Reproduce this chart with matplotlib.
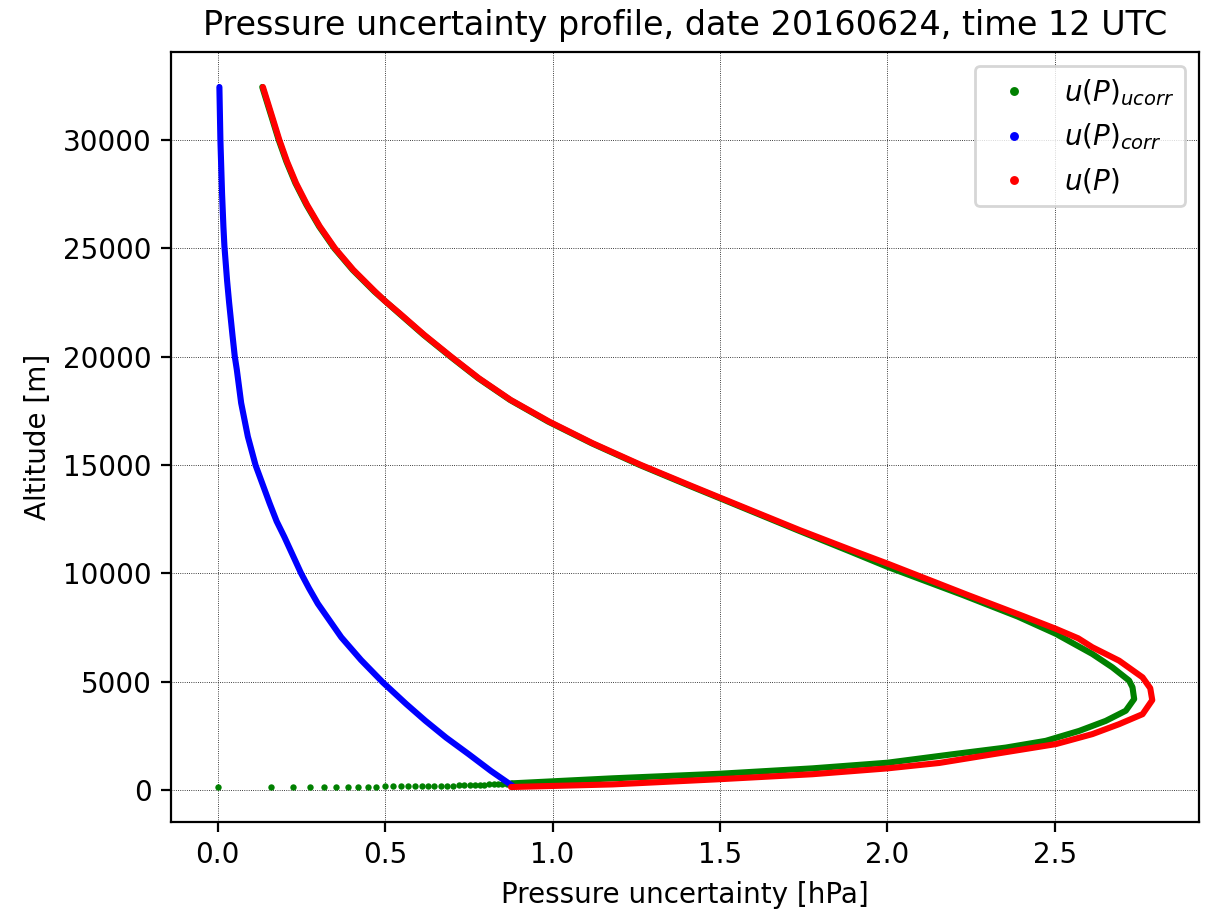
import matplotlib
matplotlib.use('Agg')
import matplotlib.pyplot as plt
from matplotlib.lines import Line2D


# Values (altitude in m, uncertainty in hPa)

# u(P)_corr
corr_alt = [185, 880, 1650, 2420, 3200, 3970, 4970, 6000, 7050, 8600, 9300, 10000,
            11680, 12400, 13230, 14990, 16310, 17860, 19400, 20000, 21000, 22500,
            23500, 25100, 26000, 27500, 28500, 30000, 32440]
corr_x = [0.881, 0.816, 0.750, 0.682, 0.620, 0.563, 0.493, 0.428, 0.369, 0.299,
          0.273, 0.249, 0.199, 0.176, 0.155, 0.113, 0.090, 0.070, 0.057, 0.051,
          0.044, 0.034, 0.028, 0.020, 0.017, 0.013, 0.011, 0.008, 0.005]

# u(P)
total_alt = [140, 260, 500, 730, 1000, 1250, 1650, 2120, 2580, 3040, 3500, 4150,
             4700, 5200, 5970, 6590, 7000, 7440, 8000, 9000, 10450, 11000, 12000,
             13380, 14000, 15000, 16000, 17000, 18000, 19000, 20000, 21000, 22000,
             22560, 23000, 24000, 25000, 26000, 27000, 28000, 29000, 30000, 31000,
             32440]
total_x = [0.876, 1.179, 1.498, 1.776, 2.000, 2.155, 2.314, 2.503, 2.612, 2.692,
           2.762, 2.791, 2.785, 2.762, 2.692, 2.612, 2.570, 2.503, 2.410, 2.240,
           2.000, 1.905, 1.737, 1.518, 1.420, 1.264, 1.120, 0.990, 0.875, 0.780,
           0.697, 0.617, 0.543, 0.500, 0.470, 0.405, 0.350, 0.305, 0.267, 0.234,
           0.207, 0.184, 0.164, 0.135]

# u(P)_ucorr, separate samples near the ground
ucorr_dot_x = [0.0, 0.159, 0.225, 0.275, 0.317, 0.354, 0.388, 0.418, 0.448, 0.474,
               0.500, 0.524, 0.547, 0.568, 0.590, 0.610, 0.629, 0.647, 0.668, 0.686,
               0.703, 0.720, 0.736, 0.752, 0.767, 0.782, 0.796, 0.810, 0.824, 0.837,
               0.850, 0.863, 0.876]
ucorr_dot_alt = [140, 142, 144, 146, 148, 150, 153, 156, 159, 162, 165, 168, 171,
                 175, 179, 183, 187, 191, 196, 201, 206, 212, 218, 225, 232, 240,
                 248, 257, 266, 276, 286, 297, 308]

# u(P)_ucorr, continuous part
ucorr_alt = [310, 540, 750, 1000, 1260, 1650, 1960, 2270, 2730, 3190, 3660, 4200,
             4740, 5050, 5660, 6280, 7210, 8000, 9000, 10300, 11000, 12000, 13380,
             14000, 15000, 16000, 17000, 18000, 19000, 20000, 21000, 22000, 23000,
             24000, 25000, 26000, 27000, 28000, 29000, 30000, 31000, 32440]
ucorr_x = [0.881, 1.179, 1.498, 1.776, 2.000, 2.194, 2.354, 2.473, 2.573, 2.652,
           2.712, 2.737, 2.732, 2.722, 2.672, 2.612, 2.503, 2.390, 2.225, 2.000,
           1.890, 1.730, 1.513, 1.415, 1.260, 1.117, 0.987, 0.873, 0.778, 0.695,
           0.615, 0.541, 0.468, 0.403, 0.348, 0.303, 0.265, 0.232, 0.205, 0.182,
           0.162, 0.133]

title = 'Pressure uncertainty profile, date 20160624, time 12 UTC'


fig = plt.figure(figsize=(6.025, 4.545), dpi=200)
ax = fig.add_axes([0.1419, 0.0957, 0.8531, 0.8471])

line_style = dict(linewidth=2.2, solid_capstyle='round', solid_joinstyle='round')

# ucorr: single samples near the ground, then the dense part as a thick line
ax.plot(ucorr_dot_x, ucorr_dot_alt, 'o', color='green', markersize=2.3,
        markeredgewidth=0)
ax.plot(ucorr_x, ucorr_alt, '-', color='green', **line_style)
ax.plot(corr_x, corr_alt, '-', color='blue', **line_style)
ax.plot(total_x, total_alt, '-', color='red', **line_style)

ax.set_title(title, fontsize=12)
ax.set_xlabel('Pressure uncertainty [hPa]')
ax.set_ylabel('Altitude [m]')
ax.grid(True, color='k', linestyle=':', linewidth=0.3)

handles = [
    Line2D([], [], marker='o', linestyle='', color='green', markersize=2.2),
    Line2D([], [], marker='o', linestyle='', color='blue', markersize=2.2),
    Line2D([], [], marker='o', linestyle='', color='red', markersize=2.2),
]
labels = [r'$u(P)_{ucorr}$', r'$u(P)_{corr}$', r'$u(P)$']
ax.legend(handles, labels, loc='upper right')

fig.savefig('out.png', dpi=200)
